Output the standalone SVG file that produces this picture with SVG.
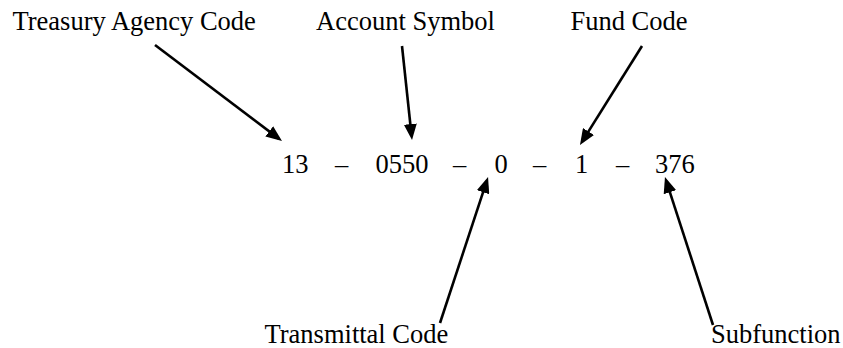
<svg xmlns="http://www.w3.org/2000/svg" width="843" height="348" viewBox="0 0 843 348">
<style>
text{font-family:'Liberation Serif','Tinos','Times New Roman','DejaVu Serif',serif;font-size:26.5px;fill:#000}
.c{stroke:#000;stroke-width:2.6;fill:none}
</style>
<defs>
<marker id="ah" markerUnits="userSpaceOnUse" markerWidth="16" markerHeight="13" refX="12" refY="6.5" orient="auto">
<path d="M0,0 L16,6.5 L0,13 z" fill="#000"/>
</marker>
</defs>
<rect width="843" height="348" fill="#fff"/>
<g id="connectors">
<line class="c" x1="155" y1="45" x2="278.8" y2="138.6" marker-end="url(#ah)"/>
<line class="c" x1="402" y1="46" x2="411.6" y2="136" marker-end="url(#ah)"/>
<line class="c" x1="642" y1="46" x2="582.1" y2="141.6" marker-end="url(#ah)"/>
<line class="c" x1="440" y1="323" x2="486.8" y2="180.8" marker-end="url(#ah)"/>
<line class="c" x1="713" y1="325" x2="666.2" y2="180.8" marker-end="url(#ah)"/>
</g>
<g font-family="Liberation Serif, serif">
<g id="label-treasury"><text x="12.5" y="30">Treasury Agency Code</text></g>
<g id="label-account"><text x="316" y="30">Account Symbol</text></g>
<g id="label-fund"><text x="570.5" y="30">Fund Code</text></g>
<g id="label-transmittal"><text x="264.5" y="342.5">Transmittal Code</text></g>
<g id="label-subfunction"><text x="711" y="342.5">Subfunction</text></g>
<g id="code">
<text x="282" y="172.5">13</text>
<text x="335" y="172.5">–</text>
<text x="375.4" y="172.5">0550</text>
<text x="453" y="172.5">–</text>
<text x="494.4" y="172.5">0</text>
<text x="533" y="172.5">–</text>
<text x="575" y="172.5">1</text>
<text x="616" y="172.5">–</text>
<text x="655" y="172.5">376</text>
</g>
</g>
</svg>
